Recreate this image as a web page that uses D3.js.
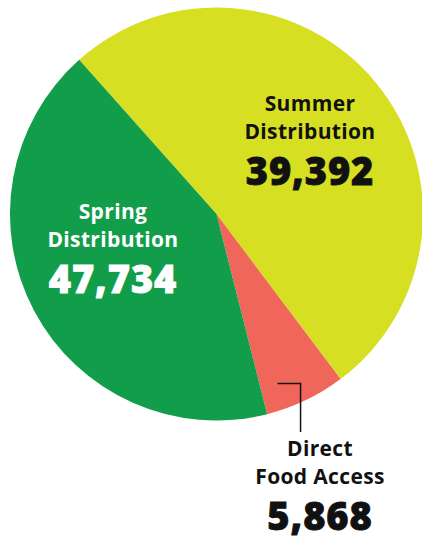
<!DOCTYPE html>
<html>
<head>
<meta charset="utf-8">
<script src="https://cdn.jsdelivr.net/npm/d3@7"></script>
<style>
  html, body { margin: 0; padding: 0; background: #fff; }
  svg { display: block; }
  .name { font-family: "Open Sans", sans-serif; font-weight: 700; font-size: 21px; letter-spacing: 0.35px; }
  .num { font-family: "Open Sans", sans-serif; font-weight: 800; font-size: 38px; letter-spacing: 0.9px; stroke-width: 0.8px; }
</style>
</head>
<body>
<div class="canvas"></div>
<script>
// slices, clockwise from the top-left boundary
const categories = ['Summer Distribution', 'Direct Food Access', 'Spring Distribution'];
// figures printed on the chart
const labelValues = [39392, 5868, 47734];
// sizes of the drawn slices, read from their angles (the original artwork
// draws the yellow slice larger than the green one, opposite to the printed figures)
const arcValues = [47734, 5868, 39392];
const colors = ['#d6df22', '#f0665a', '#129d4a'];
const textColors = ['#111', '#111', '#fff'];

const width = 422;
const height = 540;

const svg = d3.select('.canvas')
  .append('svg')
  .attr('width', width)
  .attr('height', height);

// pie centre and radius
const cx = 216.5, cy = 214, radius = 206.5;

const graph = svg.append('g')
  .attr('transform', `translate(${cx}, ${cy})`);

const startAngle = -41.7 * Math.PI / 180;

const pie = d3.pie()
  .sort(null)
  .value((d, i) => arcValues[i])
  .startAngle(startAngle)
  .endAngle(startAngle + 2 * Math.PI);

const arc = d3.arc().innerRadius(0).outerRadius(radius);

const arcs = pie(categories);

graph.selectAll('path')
  .data(arcs)
  .enter()
  .append('path')
  .attr('d', arc)
  .attr('fill', (d, i) => colors[i]);

// label anchors (centre x, baseline of first line), relative to the page
const labelPos = [
  { x: 310, y: 111, lines: ['Summer', 'Distribution'] },
  { x: 320, y: 456, lines: ['Direct', 'Food Access'] },
  { x: 113, y: 219, lines: ['Spring', 'Distribution'] }
];

const fmt = d3.format(',');

labelPos.forEach((p, i) => {
  const g = svg.append('g').attr('fill', textColors[i]).attr('text-anchor', 'middle');
  p.lines.forEach((t, j) => {
    g.append('text')
      .attr('class', 'name')
      .attr('x', p.x)
      .attr('y', p.y + j * 28)
      .text(t);
  });
  g.append('text')
    .attr('class', 'num')
    .attr('stroke', textColors[i])
    .attr('x', p.x)
    .attr('y', p.y + 74)
    .text(fmt(labelValues[i]));
});

// leader line from the small slice down to its label
const dfa = arcs[1];
const tip = d3.arc().innerRadius(radius * 0.91).outerRadius(radius * 0.91).centroid(dfa);
svg.append('path')
  .attr('d', `M${cx + tip[0] - 20},${cy + tip[1]} H${cx + tip[0] + 3} V432`)
  .attr('fill', 'none')
  .attr('stroke', '#111')
  .attr('stroke-width', 1.5);
</script>
</body>
</html>
